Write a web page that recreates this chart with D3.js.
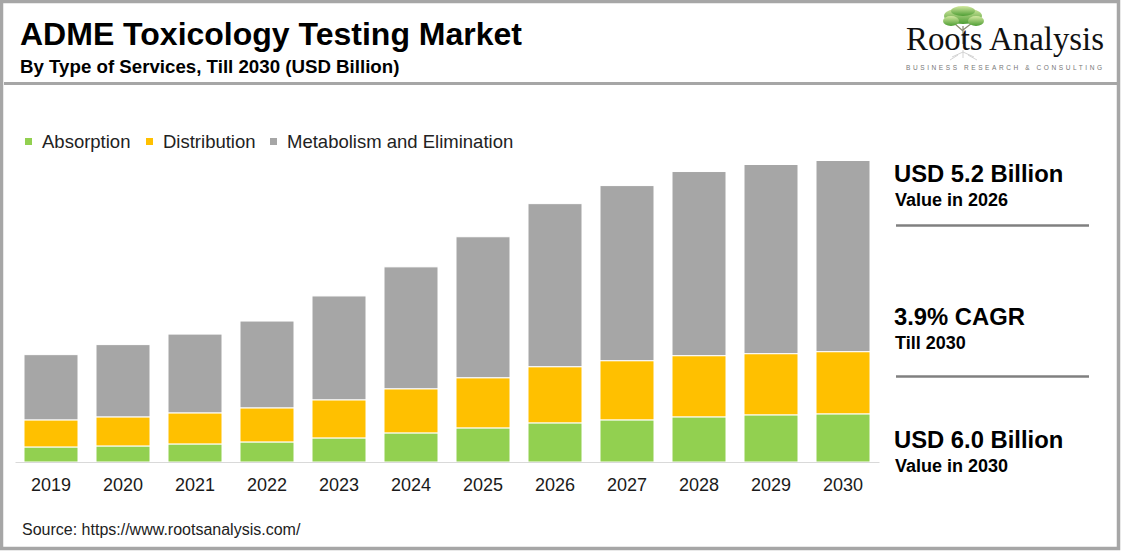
<!DOCTYPE html>
<html>
<head>
<meta charset="utf-8">
<script src="https://cdn.jsdelivr.net/npm/d3@7"></script>
<style>
  body { margin: 0; background: #fff; }
  svg { display: block; font-family: "Liberation Sans", Arial, sans-serif; }
</style>
</head>
<body>
<div class="container"></div>
<script>
const WIDTH = 1121;
const HEIGHT = 551;

// values (USD billion)
const years = ["2019", "2020", "2021", "2022", "2023", "2024", "2025", "2026", "2027", "2028", "2029", "2030"];
const absorption   = [0.30, 0.32, 0.36, 0.40, 0.48, 0.58, 0.68, 0.78, 0.84, 0.90, 0.94, 0.96];
const distribution = [0.54, 0.58, 0.62, 0.68, 0.76, 0.88, 1.00, 1.12, 1.18, 1.22, 1.22, 1.24];
const metabolism   = [1.30, 1.44, 1.57, 1.73, 2.07, 2.43, 2.81, 3.25, 3.49, 3.67, 3.77, 3.81];
const seriesNames  = ["Absorption", "Distribution", "Metabolism and Elimination"];
const seriesColors = ["#92d050", "#ffc000", "#a6a6a6"];
const sideNotes = [
  ["USD 5.2 Billion", "Value in 2026"],
  ["3.9% CAGR", "Till 2030"],
  ["USD 6.0 Billion", "Value in 2030"]
];

var translate = function(x, y){
  return "translate(" + x + "," + y + ")";
};

var svg = d3.select('.container').append('svg')
  .attr('width', WIDTH)
  .attr('height', HEIGHT);

// frame + header rule
svg.append('rect')
  .attr('x', 1.5).attr('y', 1.5)
  .attr('width', WIDTH - 4).attr('height', HEIGHT - 4)
  .attr('fill', '#fff')
  .attr('stroke', '#a6a6a6')
  .attr('stroke-width', 3.5);

svg.append('line')
  .attr('x1', 4).attr('x2', WIDTH - 4)
  .attr('y1', 83.5).attr('y2', 83.5)
  .attr('stroke', '#a6a6a6')
  .attr('stroke-width', 3);

// titles
svg.append('text')
  .attr('x', 20).attr('y', 45)
  .attr('font-size', 32).attr('font-weight', 'bold')
  .attr('fill', '#000')
  .text('ADME Toxicology Testing Market');

svg.append('text')
  .attr('x', 20).attr('y', 73)
  .attr('font-size', 18.7).attr('font-weight', 'bold')
  .attr('fill', '#000')
  .text('By Type of Services, Till 2030 (USD Billion)');

// logo
var logo = svg.append('g');
var grad = svg.append('defs').append('linearGradient')
  .attr('id', 'leaf').attr('x1', 0).attr('y1', 0).attr('x2', 0).attr('y2', 1);
grad.append('stop').attr('offset', '0%').attr('stop-color', '#d3e8a0');
grad.append('stop').attr('offset', '100%').attr('stop-color', '#4e9e34');

logo.append('path')
  .attr('d', 'M963,44 L963,26 M963,31 L955,24 M963,30 L972,23')
  .attr('stroke', '#8a8a70').attr('stroke-width', 1.2).attr('fill', 'none');
[[963, 16, 19, 8], [951, 21, 8, 5], [976, 21, 8, 5], [963, 11, 12, 5]].forEach(function(e){
  logo.append('ellipse')
    .attr('cx', e[0]).attr('cy', e[1]).attr('rx', e[2]).attr('ry', e[3])
    .attr('fill', 'url(#leaf)');
});
logo.append('path')
  .attr('d', 'M963,50 L963,58 M963,52 L952,57 M963,52 L974,57 M958,55 L950,60 M968,55 L977,60')
  .attr('stroke', '#c8c8c8').attr('stroke-width', 0.8).attr('fill', 'none');

logo.append('text')
  .attr('x', 906).attr('y', 50)
  .attr('font-family', '"Liberation Serif", "DejaVu Serif", serif')
  .attr('font-size', 33)
  .attr('fill', '#111')
  .attr('textLength', 198).attr('lengthAdjust', 'spacingAndGlyphs')
  .text('Roots Analysis');

logo.append('text')
  .attr('x', 906).attr('y', 70)
  .attr('font-size', 6.5)
  .attr('fill', '#777')
  .attr('textLength', 196).attr('lengthAdjust', 'spacing')
  .text('BUSINESS RESEARCH & CONSULTING');

// legend
var legendX = [25, 146, 270];
var legend = svg.append('g');
seriesNames.forEach(function(name, i){
  legend.append('rect')
    .attr('x', legendX[i]).attr('y', 138)
    .attr('width', 7).attr('height', 7)
    .attr('fill', seriesColors[i]);
  legend.append('text')
    .attr('x', legendX[i] + 17).attr('y', 148)
    .attr('font-size', 18.5)
    .attr('fill', '#222')
    .text(name);
});

// stacked bars
var table = years.map(function(y, i){
  return { year: y, a: absorption[i], d: distribution[i], m: metabolism[i] };
});
var stack = d3.stack().keys(['a', 'd', 'm']);
var layers = stack(table);

var xScale = d3.scaleBand()
  .domain(years)
  .range([15, 879])
  .paddingInner(0.25)
  .paddingOuter(0.125);

var yScale = d3.scaleLinear()
  .domain([0, 6.0])
  .range([462, 161]);

var bars = svg.append('g');
bars.selectAll('g')
  .data(layers)
  .enter().append('g')
  .attr('fill', function(d, i){ return seriesColors[i]; })
  .selectAll('rect')
  .data(function(d){ return d; })
  .enter().append('rect')
  .attr('x', function(d){ return xScale(d.data.year); })
  .attr('y', function(d){ return yScale(d[1]); })
  .attr('width', xScale.bandwidth())
  .attr('height', function(d){ return yScale(d[0]) - yScale(d[1]); })
  .attr('stroke', '#fff')
  .attr('stroke-width', 1);

var xAxis = d3.axisBottom(xScale).tickSize(0).tickSizeOuter(0).tickPadding(16);
var axisG = svg.append('g')
  .attr('transform', translate(0, 462))
  .call(xAxis);
axisG.select('.domain').attr('stroke', '#d9d9d9').attr('stroke-width', 1.2);
axisG.selectAll('.tick text')
  .attr('font-size', 18)
  .attr('font-family', '"Liberation Sans", Arial, sans-serif')
  .attr('fill', '#1a1a1a');

// side panel
var noteY = [182, 325, 448];
sideNotes.forEach(function(n, i){
  svg.append('text')
    .attr('x', 894).attr('y', noteY[i])
    .attr('font-size', 23.8).attr('font-weight', 'bold')
    .attr('fill', '#000')
    .text(n[0]);
  svg.append('text')
    .attr('x', 895).attr('y', noteY[i] + 23.5)
    .attr('font-size', 18).attr('font-weight', 'bold')
    .attr('fill', '#000')
    .text(n[1]);
});
[225.5, 376.5].forEach(function(y){
  svg.append('line')
    .attr('x1', 896).attr('x2', 1089)
    .attr('y1', y).attr('y2', y)
    .attr('stroke', '#808080')
    .attr('stroke-width', 2.5);
});

// source
svg.append('text')
  .attr('x', 22).attr('y', 535)
  .attr('font-size', 16)
  .attr('fill', '#222')
  .text('Source: https://www.rootsanalysis.com/');
</script>
</body>
</html>
